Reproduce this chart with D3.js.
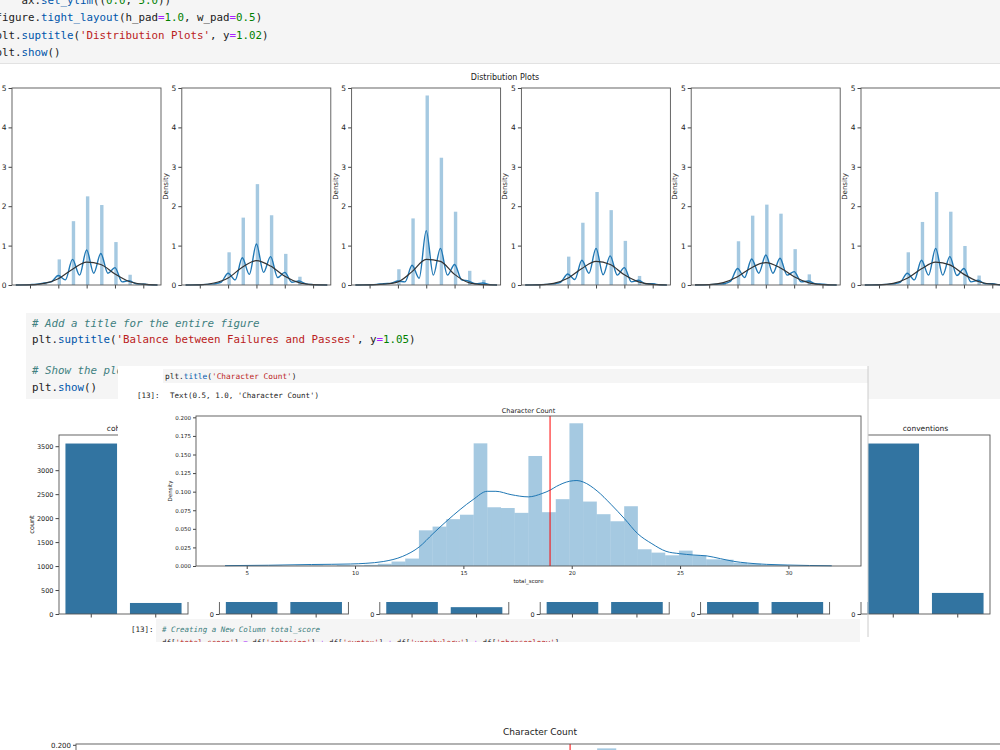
<!DOCTYPE html>
<html>
<head>
<meta charset="utf-8">
<script src="https://cdn.jsdelivr.net/npm/d3@7"></script>
<style>
  html, body { margin: 0; padding: 0; background: #fff; }
  svg { display: block; }
  text { font-family: "DejaVu Sans", sans-serif; fill: #222; }
  .code { font-family: "DejaVu Sans Mono", monospace; white-space: pre; }
</style>
</head>
<body>
<svg id="page" width="1000" height="750"></svg>
<script>
// ---- values ----

// distribution plots (6 panels)
const scoreTicks = [1, 2, 3, 4, 5]
const densityTicks = [0, 1, 2, 3, 4, 5]
const scoreLevels = [1.5, 2.0, 2.5, 3.0, 3.5, 4.0, 4.5, 5.0]
const histCohesion = [0.02, 0.65, 1.62, 2.25, 2.03, 1.09, 0.26, 0.04]
const histSyntax = [0.02, 0.83, 1.71, 2.56, 1.77, 0.79, 0.21, 0.02]
const histVocabulary = [0.04, 0.40, 1.69, 4.81, 3.23, 1.86, 0.36, 0.13]
const histPhraseology = [0.02, 0.72, 1.58, 2.36, 1.90, 1.12, 0.23, 0.05]
const histGrammar = [0.03, 1.11, 1.76, 2.04, 1.81, 0.91, 0.27, 0.03]
const histConventions = [0.02, 0.83, 1.60, 2.36, 1.86, 0.99, 0.24, 0.04]

const kdeGrid = [0.5, 0.75, 1.0, 1.25, 1.5, 1.75, 2.0, 2.25, 2.5, 2.75, 3.0, 3.25, 3.5, 3.75, 4.0, 4.25, 4.5, 4.75, 5.0, 5.25, 5.5]
const kdeCohesion = [0, 0.003, 0.01, 0.02, 0.05, 0.08, 0.24, 0.13, 0.65, 0.25, 0.89, 0.30, 0.80, 0.30, 0.44, 0.08, 0.11, 0.03, 0.02, 0.005, 0]
const kdeSyntax = [0, 0.002, 0.008, 0.015, 0.03, 0.07, 0.30, 0.13, 0.69, 0.27, 1.04, 0.32, 0.72, 0.19, 0.32, 0.07, 0.10, 0.03, 0.01, 0.003, 0]
const kdeVocabulary = [0, 0.002, 0.006, 0.015, 0.035, 0.04, 0.10, 0.08, 0.50, 0.17, 1.38, 0.25, 0.93, 0.25, 0.52, 0.13, 0.10, 0.03, 0.05, 0.01, 0]
const kdePhraseology = [0, 0.002, 0.008, 0.015, 0.03, 0.07, 0.28, 0.14, 0.63, 0.30, 0.93, 0.26, 0.74, 0.25, 0.44, 0.08, 0.12, 0.03, 0.03, 0.005, 0]
const kdeGrammar = [0, 0.003, 0.01, 0.02, 0.03, 0.09, 0.42, 0.19, 0.66, 0.30, 0.76, 0.30, 0.68, 0.25, 0.34, 0.08, 0.10, 0.03, 0.02, 0.004, 0]
const kdeConventions = [0, 0.002, 0.008, 0.015, 0.03, 0.07, 0.30, 0.13, 0.63, 0.25, 0.93, 0.25, 0.72, 0.24, 0.42, 0.08, 0.12, 0.03, 0.03, 0.005, 0]

const normGrid = [0.5, 1.0, 1.5, 2.0, 2.5, 3.0, 3.5, 4.0, 4.5, 5.0, 5.5]
const normCohesion = [0, 0.005, 0.04, 0.16, 0.40, 0.58, 0.52, 0.28, 0.09, 0.02, 0]
const normSyntax = [0, 0.005, 0.05, 0.18, 0.45, 0.62, 0.48, 0.22, 0.06, 0.01, 0]
const normVocabulary = [0, 0.001, 0.02, 0.08, 0.34, 0.65, 0.60, 0.27, 0.06, 0.01, 0]
const normPhraseology = [0, 0.004, 0.04, 0.17, 0.42, 0.60, 0.52, 0.26, 0.08, 0.015, 0]
const normGrammar = [0.001, 0.01, 0.06, 0.21, 0.44, 0.57, 0.44, 0.21, 0.06, 0.01, 0]
const normConventions = [0, 0.005, 0.04, 0.17, 0.41, 0.58, 0.51, 0.27, 0.09, 0.02, 0]

// count plots (pass / fail per criterion)
const countTitles = ["cohesion", "syntax", "vocabulary", "phraseology", "grammar", "conventions"]
const countCategories = ["0", "1"]
const countCohesion = [3556, 230]
const countSyntax = [2050, 1860]
const countVocabulary = [3640, 146]
const countPhraseology = [1950, 1860]
const countGrammar = [1890, 1900]
const countConventions = [3480, 430]
const countTicks = [0, 500, 1000, 1500, 2000, 2500, 3000, 3500]

// character count histogram (total_score)
const totalBinStart = 6
const totalBinEnd = 30
const totalDensity = [0.0004, 0, 0.0004, 0.0008, 0.0004, 0.0012, 0.0008, 0.0016, 0.003, 0.006, 0.010,
  0.048, 0.053, 0.063, 0.069, 0.165, 0.079, 0.078, 0.0715, 0.148, 0.0724, 0.0899, 0.192, 0.0867,
  0.0697, 0.0602, 0.0804, 0.0225, 0.018, 0.0144, 0.0207, 0.0144, 0.009, 0.0085, 0.0045, 0.003, 0.0015, 0.0013]
const totalKdeX = [4, 6, 8, 9.8, 10.5, 11.3, 12.2, 12.96, 13.6, 14.25, 14.85, 15.45, 16.1, 16.5, 17.2, 18.0,
  18.63, 19.0, 19.29, 19.9, 20.24, 20.53, 21.17, 21.81, 22.43, 23.04, 23.7, 24.35, 24.98, 25.6, 26.25,
  26.86, 27.47, 28.1, 29.0, 29.94, 32]
const totalKdeY = [0.0005, 0.001, 0.002, 0.0027, 0.0036, 0.006, 0.013, 0.0256, 0.0436, 0.061, 0.076, 0.0894,
  0.1005, 0.1005, 0.096, 0.093, 0.0975, 0.102, 0.107, 0.114, 0.115, 0.113, 0.101, 0.083, 0.0638, 0.0436,
  0.030, 0.0198, 0.0166, 0.0148, 0.0135, 0.0099, 0.0063, 0.004, 0.0022, 0.0013, 0.0003]
const totalMean = 19.0
const totalXTicks = [5, 10, 15, 20, 25, 30]
const totalYTicks = [0, 0.025, 0.05, 0.075, 0.1, 0.125, 0.15, 0.175, 0.2]

// code cells (text, colour, italic)
const K = "#222", B = "#0055aa", S = "#ba2121", N = "#008000", O = "#aa22ff", C = "#408080"
const topCode = [
  [["    ax.", K], ["set_ylim", B], ["((", K], ["0.0", N], [", ", K], ["5.0", N], ["))", K]],
  [["figure.", K], ["tight_layout", B], ["(h_pad", K], ["=", O], ["1.0", N], [", w_pad", K], ["=", O], ["0.5", N], [")", K]],
  [["plt.", K], ["suptitle", B], ["(", K], ["'Distribution Plots'", S], [", y", K], ["=", O], ["1.02", N], [")", K]],
  [["plt.", K], ["show", B], ["()", K]]
]
const midCode = [
  [["# Add a title for the entire figure", C, true]],
  [["plt.", K], ["suptitle", B], ["(", K], ["'Balance between Failures and Passes'", S], [", y", K], ["=", O], ["1.05", N], [")", K]],
  [["# Show the plot", C, true]],
  [["plt.", K], ["show", B], ["()", K]]
]
const titleCode = [[["plt.", K], ["title", B], ["(", K], ["'Character Count'", S], [")", K]]]
const outCode = [[["Text(0.5, 1.0, 'Character Count')", K]]]
const newColCode = [
  [["# Creating a New Column total_score", C, true]],
  [["df[", K], ["'total_score'", S], ["] ", K], ["=", O], [" df[", K], ["'cohesion'", S], ["] ", K], ["+", O],
   [" df[", K], ["'syntax'", S], ["] ", K], ["+", O], [" df[", K], ["'vocabulary'", S], ["] ", K], ["+", O],
   [" df[", K], ["'phraseology'", S], ["]", K]]
]

const svg = d3.select("#page")
svg.append("rect").attr("width", 1000).attr("height", 750).attr("fill", "#fff")

// draws code lines as tspans
function drawCode(g, x, ys, lines, size) {
  lines.forEach((tokens, i) => {
    const t = g.append("text").attr("class", "code").attr("x", x).attr("y", ys[i]).attr("font-size", size)
    tokens.forEach(([s, c, it]) => {
      t.append("tspan").attr("fill", c).attr("font-style", it ? "italic" : "normal").text(s)
    })
  })
}

// ---- top code cell ----
svg.append("rect").attr("x", 0).attr("y", 0).attr("width", 1000).attr("height", 63).attr("fill", "#f5f5f5")
svg.append("line").attr("x1", 0).attr("x2", 1000).attr("y1", 63.5).attr("y2", 63.5).attr("stroke", "#e2e2e2")
drawCode(svg, -4.5, [4, 21, 38.5, 56], topCode, 10.8)

// ---- distribution plots ----
svg.append("text").attr("x", 505).attr("y", 80).attr("text-anchor", "middle").attr("font-size", 8).text("Distribution Plots")

const distPanels = [
  [histCohesion, kdeCohesion, normCohesion],
  [histSyntax, kdeSyntax, normSyntax],
  [histVocabulary, kdeVocabulary, normVocabulary],
  [histPhraseology, kdePhraseology, normPhraseology],
  [histGrammar, kdeGrammar, normGrammar],
  [histConventions, kdeConventions, normConventions]
]

const distTop = 88, distBottom = 285, distWidth = 149
const distY = d3.scaleLinear().domain([0, 5]).range([distBottom, distTop])

distPanels.forEach(([hist, kde, norm], i) => {
  const left = 12 + i * 169.8
  const x = d3.scaleLinear().domain([0.365, 5.625]).range([left, left + distWidth])
  const g = svg.append("g")

  g.selectAll("rect.bar")
    .data(hist)
    .join("rect")
    .attr("class", "bar")
    .attr("x", (d, j) => x(scoreLevels[j] - 0.025))
    .attr("width", (d, j) => x(scoreLevels[j] + 0.095) - x(scoreLevels[j] - 0.025))
    .attr("y", d => distY(d))
    .attr("height", d => distBottom - distY(d))
    .attr("fill", "#1f77b4")
    .attr("fill-opacity", 0.4)

  const kdeLine = d3.line().x((d, j) => x(kdeGrid[j])).y(d => distY(d)).curve(d3.curveMonotoneX)
  g.append("path").attr("d", kdeLine(kde)).attr("fill", "none").attr("stroke", "#1f77b4").attr("stroke-width", 1.4)

  const normLine = d3.line().x((d, j) => x(normGrid[j])).y(d => distY(d)).curve(d3.curveMonotoneX)
  g.append("path").attr("d", normLine(norm)).attr("fill", "none").attr("stroke", "#333").attr("stroke-width", 1.2)

  const yAxis = g.append("g").attr("transform", `translate(${left},0)`)
    .call(d3.axisLeft(distY).tickValues(densityTicks).tickFormat(d3.format("d")).tickSize(3.5).tickPadding(2))
  yAxis.select(".domain").remove()
  yAxis.selectAll("text").attr("font-size", 7.5).attr("font-family", "DejaVu Sans").attr("fill", "#333")
  yAxis.selectAll("line").attr("stroke", "#444")

  const xAxis = g.append("g").attr("transform", `translate(0,${distBottom})`)
    .call(d3.axisBottom(x).tickValues(scoreTicks).tickFormat("").tickSize(3.5))
  xAxis.select(".domain").remove()
  xAxis.selectAll("line").attr("stroke", "#444")

  g.append("rect").attr("x", left).attr("y", distTop).attr("width", distWidth).attr("height", distBottom - distTop)
    .attr("fill", "none").attr("stroke", "#555").attr("stroke-width", 0.9)

  g.append("text")
    .attr("transform", `translate(${left - 14},${(distTop + distBottom) / 2}) rotate(-90)`)
    .attr("text-anchor", "middle").attr("font-size", 7).attr("fill", "#333").text("Density")
})

// ---- middle code cell ----
svg.append("rect").attr("x", 26).attr("y", 313).attr("width", 974).attr("height", 86).attr("fill", "#f5f5f5")
drawCode(svg, 32, [327, 343, 374, 391], midCode, 10.8)

// ---- count plots (mostly hidden behind the pasted output) ----
const countData = [countCohesion, countSyntax, countVocabulary, countPhraseology, countGrammar, countConventions]
const countTop = 435, countBottom = 614, countWidth = 129

countData.forEach((vals, i) => {
  const left = 59 + i * 160.4
  const x = d3.scaleBand().domain(countCategories).range([left, left + countWidth]).paddingInner(0.2).paddingOuter(0.1)
  const y = d3.scaleLinear().domain([0, d3.max(vals) * 1.05]).range([countBottom, countTop])
  const g = svg.append("g")

  g.selectAll("rect")
    .data(vals)
    .join("rect")
    .attr("x", (d, j) => x(countCategories[j]))
    .attr("width", x.bandwidth())
    .attr("y", d => y(d))
    .attr("height", d => countBottom - y(d))
    .attr("fill", "#3274a1")

  const yAxis = g.append("g").attr("transform", `translate(${left},0)`)
    .call(d3.axisLeft(y).tickValues(countTicks.filter(t => t <= y.domain()[1]))
      .tickFormat(d3.format("d")).tickSize(3.5).tickPadding(2))
  yAxis.select(".domain").remove()
  yAxis.selectAll("text").attr("font-size", 6.5).attr("font-family", "DejaVu Sans").attr("fill", "#333")
  yAxis.selectAll("line").attr("stroke", "#444")

  const xAxis = g.append("g").attr("transform", `translate(0,${countBottom})`)
    .call(d3.axisBottom(x).tickFormat("").tickSize(3.5))
  xAxis.select(".domain").remove()
  xAxis.selectAll("line").attr("stroke", "#444")

  g.append("rect").attr("x", left).attr("y", countTop).attr("width", countWidth).attr("height", countBottom - countTop)
    .attr("fill", "none").attr("stroke", "#555").attr("stroke-width", 0.9)

  g.append("text").attr("x", left + countWidth / 2).attr("y", countTop - 4).attr("text-anchor", "middle")
    .attr("font-size", 7.5).text(countTitles[i])

  if (i === 0) {
    g.append("text")
      .attr("transform", `translate(${left - 25},${(countTop + countBottom) / 2}) rotate(-90)`)
      .attr("text-anchor", "middle").attr("font-size", 6.5).attr("fill", "#333").text("count")
  }
})

// ---- pasted output: plt.title + character count chart ----
const overlay = svg.append("g")
overlay.append("rect").attr("x", 118).attr("y", 366).attr("width", 750).attr("height", 236).attr("fill", "#fff")
overlay.append("rect").attr("x", 163).attr("y", 369).attr("width", 705).attr("height", 14).attr("fill", "#f5f5f5")
drawCode(overlay, 165, [379], titleCode, 7.8)
overlay.append("text").attr("class", "code").attr("x", 137).attr("y", 398).attr("font-size", 7.5).attr("fill", "#999").text("[13]:")
drawCode(overlay, 170, [398], outCode, 7.5)

// histogram + kde + mean line, drawn for a given axes box
function drawTotalChart(g, left, right, top, height, fonts) {
  const x = d3.scaleLinear().domain([2.66, 33.35]).range([left, right])
  const y = d3.scaleLinear().domain([0, 0.2018]).range([top + height, top])
  const binW = (totalBinEnd - totalBinStart) / totalDensity.length
  const bottom = top + height

  g.selectAll("rect.tbar")
    .data(totalDensity)
    .join("rect")
    .attr("class", "tbar")
    .attr("x", (d, j) => x(totalBinStart + j * binW))
    .attr("width", x(binW) - x(0))
    .attr("y", d => y(d))
    .attr("height", d => bottom - y(d))
    .attr("fill", "#1f77b4")
    .attr("fill-opacity", 0.4)

  const kdeLine = d3.line().x((d, j) => x(totalKdeX[j])).y(d => y(d)).curve(d3.curveMonotoneX)
  g.append("path").attr("d", kdeLine(totalKdeY)).attr("fill", "none").attr("stroke", "#1f77b4").attr("stroke-width", fonts.line)

  g.append("line").attr("x1", x(totalMean)).attr("x2", x(totalMean)).attr("y1", top).attr("y2", bottom)
    .attr("stroke", "red").attr("stroke-width", 1)

  const yAxis = g.append("g").attr("transform", `translate(${left},0)`)
    .call(d3.axisLeft(y).tickValues(totalYTicks).tickFormat(d3.format(".3f")).tickSize(3).tickPadding(2))
  yAxis.select(".domain").remove()
  yAxis.selectAll("text").attr("font-size", fonts.tick).attr("font-family", "DejaVu Sans").attr("fill", "#333")
  yAxis.selectAll("line").attr("stroke", "#444")

  const xAxis = g.append("g").attr("transform", `translate(0,${bottom})`)
    .call(d3.axisBottom(x).tickValues(totalXTicks).tickSize(3).tickPadding(2))
  xAxis.select(".domain").remove()
  xAxis.selectAll("text").attr("font-size", fonts.tick).attr("font-family", "DejaVu Sans").attr("fill", "#333")
  xAxis.selectAll("line").attr("stroke", "#444")

  g.append("rect").attr("x", left).attr("y", top).attr("width", right - left).attr("height", height)
    .attr("fill", "none").attr("stroke", "#555").attr("stroke-width", 0.9)

  g.append("text").attr("x", (left + right) / 2).attr("y", top - fonts.titleGap).attr("text-anchor", "middle")
    .attr("font-size", fonts.title).text("Character Count")
  g.append("text")
    .attr("transform", `translate(${left - 24},${top + height / 2}) rotate(-90)`)
    .attr("text-anchor", "middle").attr("font-size", fonts.tick).attr("fill", "#333").text("Density")
  g.append("text").attr("x", (left + right) / 2).attr("y", bottom + 17).attr("text-anchor", "middle")
    .attr("font-size", fonts.tick).attr("fill", "#333").text("total_score")
}

drawTotalChart(overlay.append("g"), 196, 861, 416, 150, { tick: 5.5, title: 6.5, titleGap: 3, line: 1 })

// next cell of the pasted screenshot, cut off at its lower edge
svg.append("clipPath").attr("id", "cellClip")
  .append("rect").attr("x", 156).attr("y", 619).attr("width", 704).attr("height", 23)
const nextCell = overlay.append("g").attr("clip-path", "url(#cellClip)")
nextCell.append("rect").attr("x", 156).attr("y", 619).attr("width", 704).attr("height", 23).attr("fill", "#f5f5f5")
drawCode(nextCell, 162, [632, 645], newColCode, 7.5)
overlay.append("text").attr("class", "code").attr("x", 131).attr("y", 632).attr("font-size", 7.5).attr("fill", "#999").text("[13]:")
overlay.append("line").attr("x1", 868).attr("x2", 868).attr("y1", 366).attr("y2", 637).attr("stroke", "#ccc")

// ---- second copy of the chart at the bottom (cut off by the window) ----
drawTotalChart(svg.append("g"), 76, 1004, 744, 90, { tick: 7, title: 9, titleGap: 9, line: 1.3 })
</script>
</body>
</html>
